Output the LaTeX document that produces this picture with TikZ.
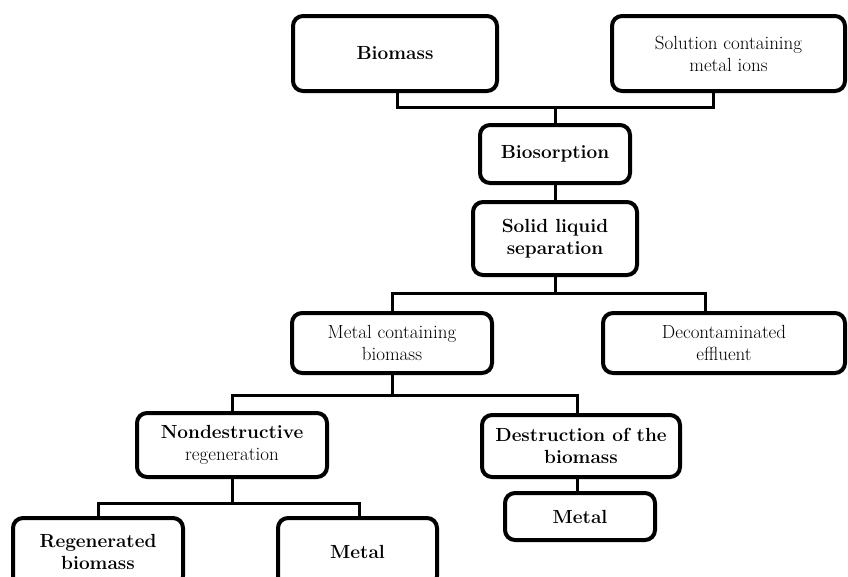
\documentclass[tikz,border=0pt]{standalone}
\usepackage{tikz}
\begin{document}
\begin{tikzpicture}[x=1pt,y=-1pt,
	box/.style={draw,line width=4pt,rounded corners=10pt,align=center,inner sep=2pt,font=\fontsize{19}{22}\selectfont},
	link/.style={line width=3pt}]
	\useasboundingbox (0,0) rectangle (848,576);
	\clip (0,0) rectangle (848,576);
	\node[box,minimum width=204pt,minimum height=75pt] (biomass) at (395,53.5) {\bfseries Biomass};
	\node[box,minimum width=233pt,minimum height=75pt] (solution) at (728.5,53.5) {Solution containing\\metal ions};
	\node[box,minimum width=150pt,minimum height=58pt] (biosorption) at (555,154) {\bfseries Biosorption};
	\node[box,minimum width=164pt,minimum height=73pt] (separation) at (555,238.5) {\bfseries Solid liquid\\\bfseries separation};
	\node[box,minimum width=200pt,minimum height=60pt] (metalbio) at (392,343) {Metal containing\\biomass};
	\node[box,minimum width=242pt,minimum height=60pt] (effluent) at (724,343) {Decontaminated\\effluent};
	\node[box,minimum width=190pt,minimum height=64pt] (nondestr) at (232,445) {\bfseries Nondestructive\\regeneration};
	\node[box,minimum width=198pt,minimum height=62pt] (destr) at (581,446) {\bfseries Destruction of the\\\bfseries biomass};
	\node[box,minimum width=170pt,minimum height=68pt] (regen) at (98,552) {\bfseries Regenerated\\\bfseries biomass};
	\node[box,minimum width=159pt,minimum height=68pt] (metalA) at (357.5,552) {\bfseries Metal};
	\node[box,minimum width=150pt,minimum height=47pt] (metalB) at (580,516.5) {\bfseries Metal};
	% joints
	\coordinate (j1) at (555,107);
	\coordinate (j2) at (555,293);
	\coordinate (j3) at (392,395);
	\coordinate (j4) at (232,503);
	\draw[link] ([xshift=2pt]biomass.south) |- (j1) -| ([xshift=-15pt]solution.south);
	\draw[link] (j1)--(biosorption.north);
	\draw[link] (biosorption)--(separation);
	\draw[link] (separation.south)--(j2);
	\draw[link] (metalbio.north) |- (j2) -| ([xshift=-19pt]effluent.north);
	\draw[link] (metalbio.south)--(j3);
	\draw[link] (nondestr.north) |- (j3) -| ([xshift=-4pt]destr.north);
	\draw[link] (nondestr.south)--(j4);
	\draw[link] (regen.north) |- (j4) -| ([xshift=2pt]metalA.north);
	\draw[link] ([xshift=-4pt]destr.south)--([xshift=-3pt]metalB.north);
\end{tikzpicture}
\end{document}
